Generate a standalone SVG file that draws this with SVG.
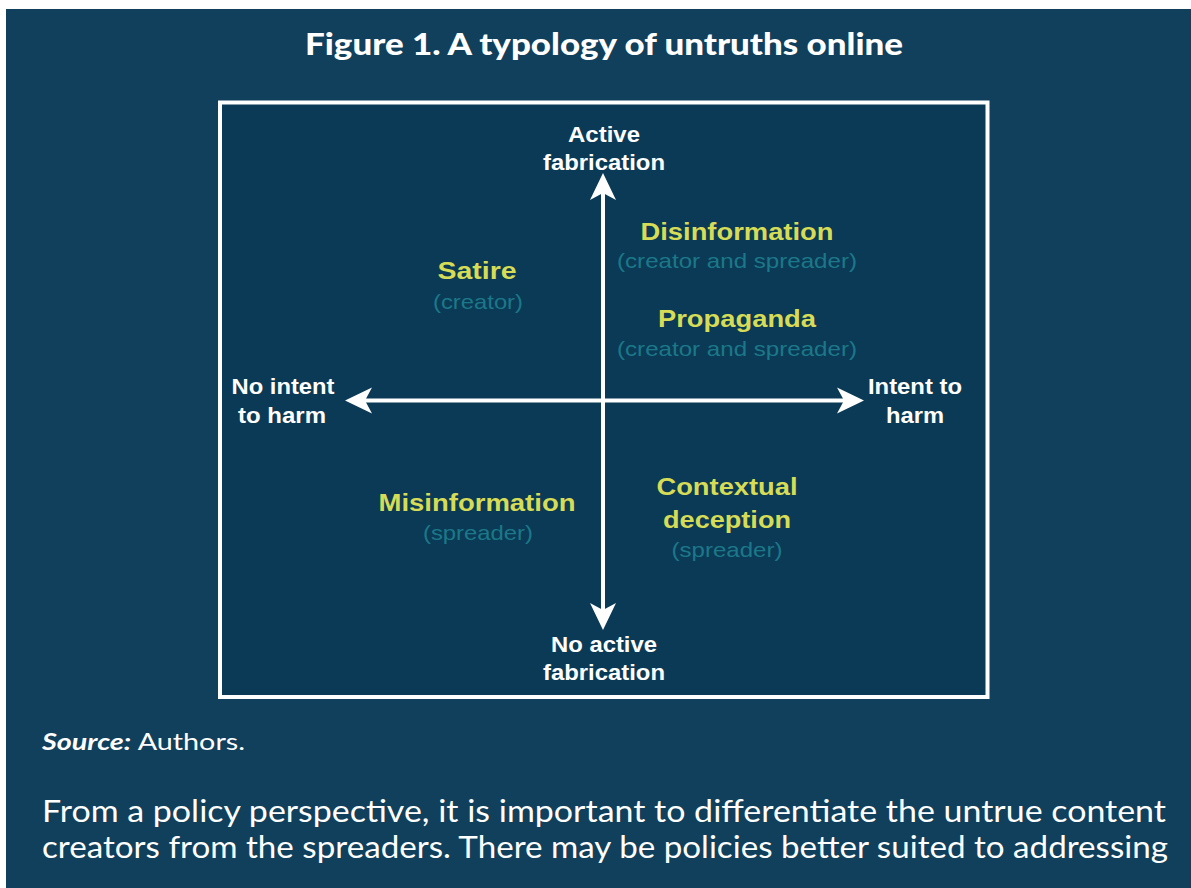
<svg xmlns="http://www.w3.org/2000/svg" width="1191" height="888" viewBox="0 0 1191 888">
<style>
.cal{font-family:Lato,"Open Sans","Liberation Sans",sans-serif;fill:#ffffff}
.ax{font-family:"Liberation Sans",Arial,sans-serif;font-weight:bold;font-size:22px;fill:#ffffff;text-anchor:middle}
.cat{font-family:"Liberation Sans",Arial,sans-serif;font-weight:bold;font-size:24px;fill:#d6dc55;text-anchor:middle}
.sub{font-family:"Liberation Sans",Arial,sans-serif;font-size:21px;fill:#1b7888;text-anchor:middle}
.axis{stroke:#ffffff;stroke-width:4;fill:none}
.head{fill:#ffffff}
</style>
<rect x="0" y="0" width="1191" height="888" fill="#ffffff"/>
<rect x="6" y="9" width="1185" height="879" fill="#10405c"/>
<g id="title">
<text class="cal" x="604" y="55" font-size="30" font-weight="900" text-anchor="middle" textLength="598" lengthAdjust="spacingAndGlyphs">Figure 1. A typology of untruths online</text>
</g>
<g id="frame">
<rect x="220" y="102.5" width="767.5" height="594.5" fill="#0b3a56" stroke="#ffffff" stroke-width="4"/>
</g>
<g id="connectors">
<line class="axis" x1="603" y1="190" x2="603" y2="615"/>
<line class="axis" x1="360" y1="400.5" x2="848" y2="400.5"/>
<path class="head" d="M603,173 L616,200 L603,193 L590,200 Z"/>
<path class="head" d="M603,630 L616,603 L603,610 L590,603 Z"/>
<path class="head" d="M345,400.5 L372,387.5 L365,400.5 L372,413.5 Z"/>
<path class="head" d="M864,400.5 L837,387.5 L844,400.5 L837,413.5 Z"/>
</g>
<g id="axis-top">
<text class="ax" x="604" y="142" textLength="72" lengthAdjust="spacingAndGlyphs">Active</text>
<text class="ax" x="604" y="170" textLength="122" lengthAdjust="spacingAndGlyphs">fabrication</text>
</g>
<g id="axis-bottom">
<text class="ax" x="604" y="652" textLength="106" lengthAdjust="spacingAndGlyphs">No active</text>
<text class="ax" x="604" y="680" textLength="122" lengthAdjust="spacingAndGlyphs">fabrication</text>
</g>
<g id="axis-left">
<text class="ax" x="283" y="394" textLength="103" lengthAdjust="spacingAndGlyphs">No intent</text>
<text class="ax" x="282" y="423" textLength="88" lengthAdjust="spacingAndGlyphs">to harm</text>
</g>
<g id="axis-right">
<text class="ax" x="915" y="394" textLength="94" lengthAdjust="spacingAndGlyphs">Intent to</text>
<text class="ax" x="915" y="423" textLength="58" lengthAdjust="spacingAndGlyphs">harm</text>
</g>
<g id="satire">
<text class="cat" x="477" y="279" textLength="79" lengthAdjust="spacingAndGlyphs">Satire</text>
<text class="sub" x="478" y="309" textLength="90" lengthAdjust="spacingAndGlyphs">(creator)</text>
</g>
<g id="disinformation">
<text class="cat" x="737" y="240" textLength="193" lengthAdjust="spacingAndGlyphs">Disinformation</text>
<text class="sub" x="737" y="268" textLength="240" lengthAdjust="spacingAndGlyphs">(creator and spreader)</text>
</g>
<g id="propaganda">
<text class="cat" x="737" y="327" textLength="158" lengthAdjust="spacingAndGlyphs">Propaganda</text>
<text class="sub" x="737" y="356" textLength="240" lengthAdjust="spacingAndGlyphs">(creator and spreader)</text>
</g>
<g id="misinformation">
<text class="cat" x="477" y="511" textLength="197" lengthAdjust="spacingAndGlyphs">Misinformation</text>
<text class="sub" x="478" y="540" textLength="110" lengthAdjust="spacingAndGlyphs">(spreader)</text>
</g>
<g id="contextual">
<text class="cat" x="727" y="495" textLength="141" lengthAdjust="spacingAndGlyphs">Contextual</text>
<text class="cat" x="727" y="528" textLength="128" lengthAdjust="spacingAndGlyphs">deception</text>
<text class="sub" x="727" y="557" textLength="111" lengthAdjust="spacingAndGlyphs">(spreader)</text>
</g>
<g id="source">
<text class="cal" x="42" y="750" font-size="23" textLength="203" lengthAdjust="spacingAndGlyphs"><tspan font-weight="bold" font-style="italic">Source:</tspan> Authors.</text>
</g>
<g id="paragraph">
<text class="cal" x="42" y="822" font-size="30" textLength="1124" lengthAdjust="spacingAndGlyphs">From a policy perspective, it is important to differentiate the untrue content</text>
<text class="cal" x="42" y="858" font-size="30" textLength="1126" lengthAdjust="spacingAndGlyphs">creators from the spreaders. There may be policies better suited to addressing</text>
</g>
</svg>
